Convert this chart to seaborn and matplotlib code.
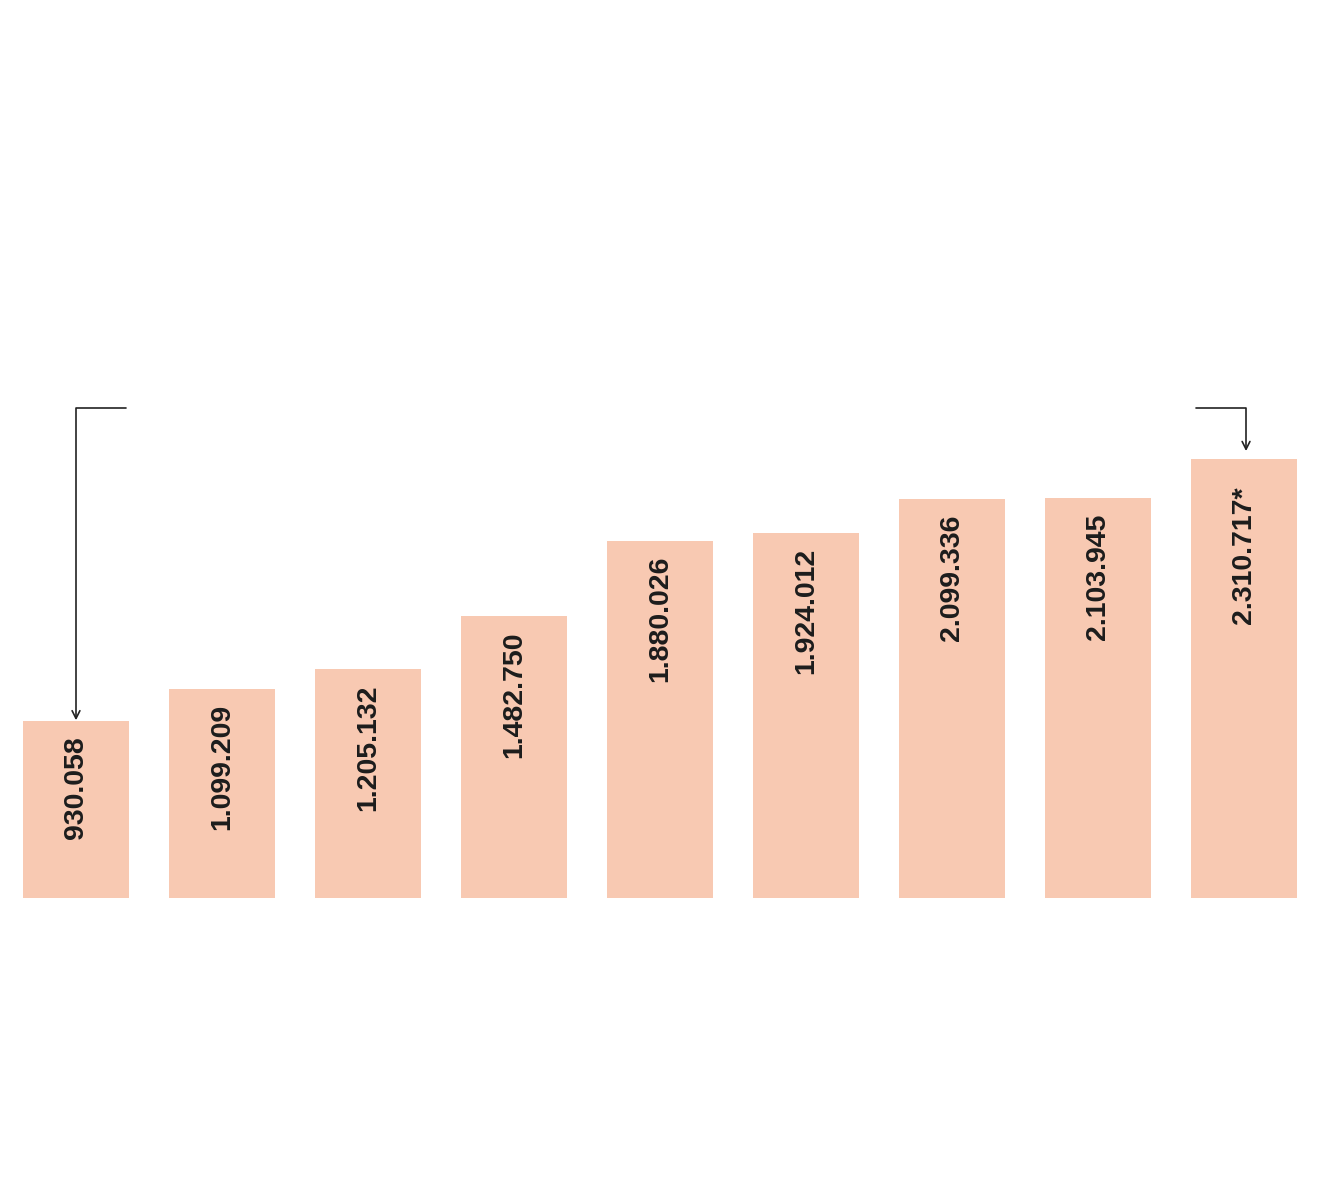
import matplotlib
matplotlib.use("Agg")
import matplotlib.pyplot as plt
import seaborn as sns

# values
values = [930058, 1099209, 1205132, 1482750, 1880026, 1924012, 2099336, 2103945, 2310717]
bar_labels = ["930.058", "1.099.209", "1.205.132", "1.482.750", "1.880.026",
              "1.924.012", "2.099.336", "2.103.945", "2.310.717*"]

bar_color = "#F8C9B2"
text_color = "#1c1c1c"

sns.set_theme(style="white")
plt.rcParams['font.family'] = ['Liberation Sans', 'DejaVu Sans']

fig = plt.figure(figsize=(13.2, 12), dpi=100)
ax = fig.add_axes([3 / 1320, 1 - 898 / 1200, 1314 / 1320, 898 / 1200])

sns.barplot(x=bar_labels, y=values, color=bar_color, saturation=1,
            width=0.726, ax=ax, linewidth=0)

px = 1 / 1.8993e-4  # data units per pixel
ax.set_xlim(-0.5, len(values) - 0.5)
ax.set_ylim(0, 898 * px)
ax.set_axis_off()

# value labels inside the bars, rotated
for i, (v, lab) in enumerate(zip(values, bar_labels)):
    off = 15 if not lab.endswith("*") else 27
    ax.text(i, v - off * px, lab, rotation=90, ha="center", va="top",
            fontsize=20.5, fontweight="bold", color=text_color)

# bracket arrows
y_line = 490 * px
arrow = dict(arrowstyle="->", color="#222222", lw=1.2, shrinkA=0, shrinkB=0,
             mutation_scale=14,
             connectionstyle="angle,angleA=0,angleB=90,rad=0")
ax.annotate("", xy=(0, values[0] + 1 * px), xytext=(0.342, y_line), arrowprops=arrow)
ax.annotate("", xy=(8.014, values[-1] + 8 * px), xytext=(7.671, y_line), arrowprops=arrow)

fig.savefig("out.png", dpi=100, facecolor="white")
